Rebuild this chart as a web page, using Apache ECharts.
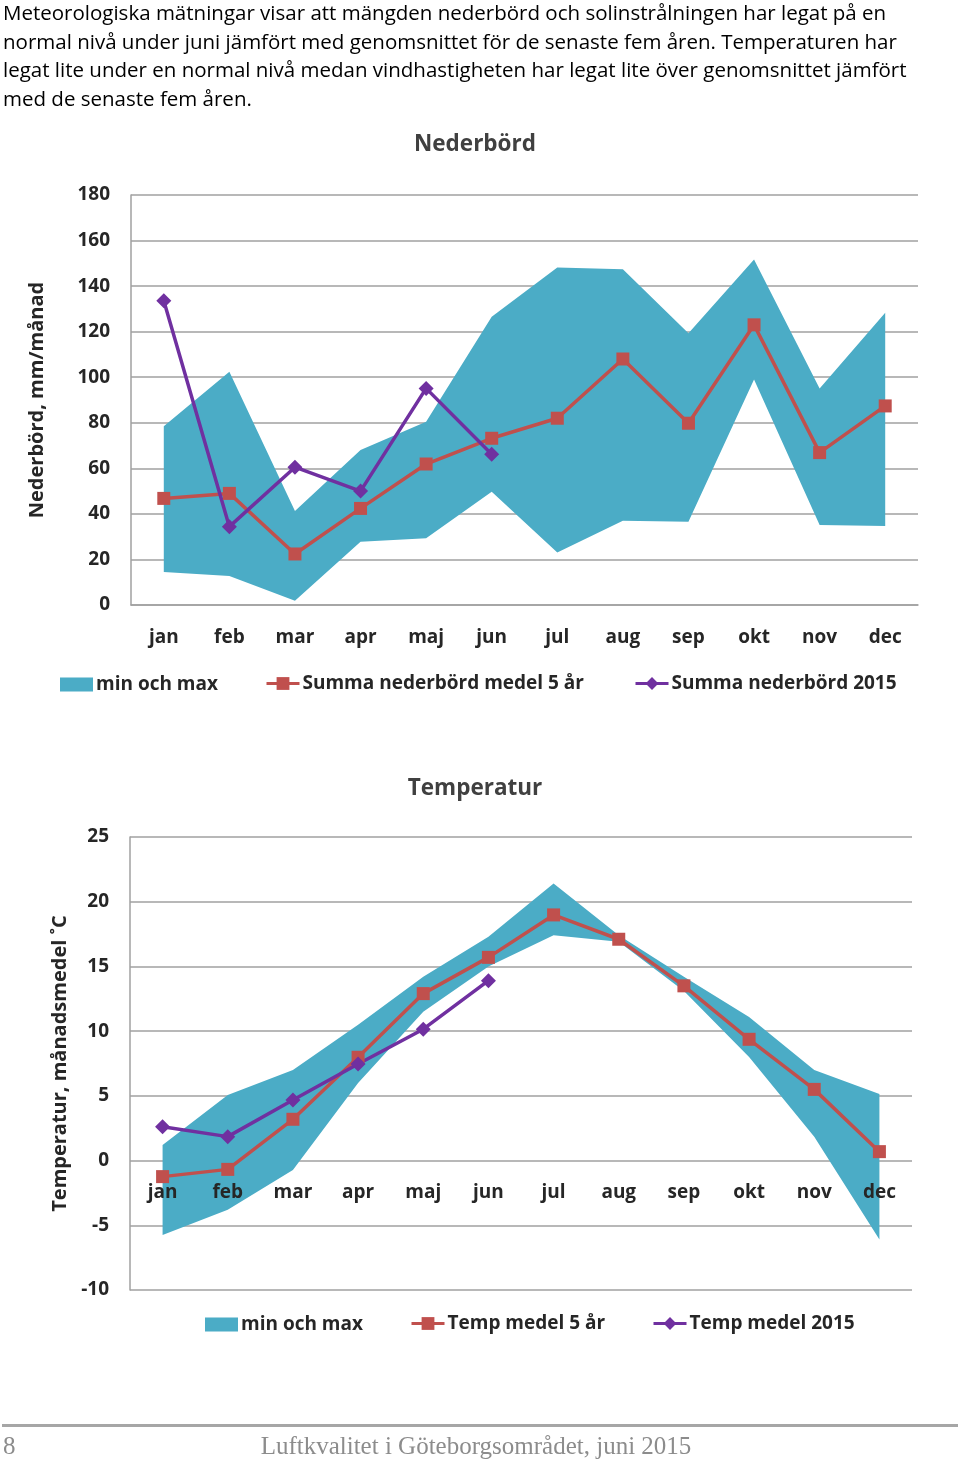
<!DOCTYPE html>
<html><head><meta charset="utf-8">
<script src="https://cdn.jsdelivr.net/npm/echarts@6/dist/echarts.min.js"></script>
<style>
html,body{margin:0;padding:0;background:#fff;}
#wrap{position:relative;width:960px;height:1463px;overflow:hidden;background:#fff;}
#chart{position:absolute;left:0;top:0;width:960px;height:1463px;}
#para{position:absolute;left:3px;top:-2px;width:955px;font-family:"Open Sans",sans-serif;font-size:20.5px;line-height:28.6px;color:#000;white-space:nowrap;}
#rule{position:absolute;left:2px;top:1424px;width:956px;height:3px;background:#a6a6a6;}
#pnum{position:absolute;left:3px;top:1431px;font-family:"Liberation Serif",serif;font-size:25px;line-height:30px;color:#8c8c8c;}
#foot{position:absolute;left:0;width:952px;top:1431px;text-align:center;font-family:"Liberation Serif",serif;font-size:25px;line-height:30px;color:#8c8c8c;}
</style></head>
<body><div id="wrap">
<div id="chart"></div>
<div id="para">Meteorologiska mätningar visar att mängden nederbörd och solinstrålningen har legat på en<br>normal nivå under juni jämfört med genomsnittet för de senaste fem åren. Temperaturen har<br>legat lite under en normal nivå medan vindhastigheten har legat lite över genomsnittet jämfört<br>med de senaste fem åren.</div>
<div id="rule"></div>
<div id="pnum">8</div>
<div id="foot">Luftkvalitet i Göteborgsområdet, juni 2015</div>
</div>
<script>
const months = ['jan','feb','mar','apr','maj','jun','jul','aug','sep','okt','nov','dec'];

const precipMin  = [14.5, 12.7, 1.9, 27.8, 29.3, 49.7, 23, 37, 36.6, 99, 35.1, 34.7];
const precipMax  = [78.5, 102.4, 41.3, 68, 80.5, 126.6, 148.2, 147.4, 119.3, 151.7, 95.1, 128.3];
const precipAvg5 = [46.8, 49, 22.4, 42.4, 61.9, 73.2, 82, 108, 79.8, 123, 66.9, 87.4];
const precip2015 = [133.6, 34.4, 60.5, 50, 95.1, 66.2];

const tempMin  = [-5.75, -3.8, -0.73, 6.0, 11.5, 15.0, 17.4, 16.9, 13.1, 8.0, 1.85, -6.1];
const tempMax  = [1.2, 5.07, 7.0, 10.5, 14.2, 17.3, 21.4, 17.4, 14.2, 11.1, 7.0, 5.14];
const tempAvg5 = [-1.24, -0.68, 3.19, 7.98, 12.9, 15.7, 18.98, 17.1, 13.5, 9.37, 5.5, 0.69];
const temp2015 = [2.62, 1.85, 4.68, 7.46, 10.15, 13.9];

const precipTicks = {min: 0, max: 180, interval: 20};
const tempTicks = {min: -10, max: 25, interval: 5};

const TEAL = '#4bacc6', RED = '#c0504d', PURPLE = '#7030a0';
const GRIDC = '#a0a0a0', TXT = '#262626';
const FONT = 'Open Sans';

const chart = echarts.init(document.getElementById('chart'), null, {renderer: 'canvas'});

const GRID2 = {left: 130, top: 837, width: 782, height: 453};
// place temperature category labels at the zero line
const zeroOffset = -GRID2.height * (0 - tempTicks.min) / (tempTicks.max - tempTicks.min);

function xAxisCfg(gi, offset, showLine) {
  return {
    type: 'category', gridIndex: gi, data: months, boundaryGap: true, offset: offset, z: 10,
    axisLine: {show: showLine, onZero: false, lineStyle: {color: GRIDC, width: 1.5}},
    axisTick: {show: false},
    axisLabel: {margin: 23, interval: 0, fontFamily: FONT, fontWeight: 'bold', fontSize: 19, color: TXT}
  };
}
function yAxisCfg(gi, t, name, gap) {
  return {
    type: 'value', gridIndex: gi, min: t.min, max: t.max, interval: t.interval,
    name: name, nameLocation: 'middle', nameGap: gap, nameRotate: 90,
    nameTextStyle: {fontFamily: FONT, fontWeight: 'bold', fontSize: 20, color: TXT},
    axisLine: {show: true, lineStyle: {color: GRIDC, width: 1.5}},
    axisTick: {show: false},
    splitLine: {show: true, lineStyle: {color: GRIDC, width: 1.5}},
    axisLabel: {margin: 21, fontFamily: FONT, fontWeight: 'bold', fontSize: 19, color: TXT}
  };
}
function band(gi, mins, maxs, stackId) {
  return [
    {type: 'line', name: 'band-min-' + gi, xAxisIndex: gi, yAxisIndex: gi, data: mins,
     stack: stackId, stackStrategy: 'all', symbol: 'none', silent: true,
     lineStyle: {opacity: 0, width: 0}, z: 1},
    {type: 'line', name: 'min och max', xAxisIndex: gi, yAxisIndex: gi,
     data: maxs.map((v, i) => +(v - mins[i]).toFixed(2)),
     stack: stackId, stackStrategy: 'all', symbol: 'none', silent: true,
     lineStyle: {width: 0, color: TEAL}, itemStyle: {color: TEAL},
     areaStyle: {color: TEAL, opacity: 1}, z: 1}
  ];
}
function lineS(gi, name, data, color, sym, size) {
  return {type: 'line', name: name, xAxisIndex: gi, yAxisIndex: gi, data: data,
    symbol: sym, symbolSize: size, showSymbol: true,
    lineStyle: {color: color, width: 3.5}, itemStyle: {color: color}, z: 3};
}
function leg(left, top, name, icon) {
  const isRect = !!icon;
  return {left: left, top: isRect ? top : top - 1, padding: 0, itemWidth: 33,
    itemHeight: isRect ? 14 : 16, itemGap: 0,
    selectedMode: false, data: [isRect ? {name: name, icon: icon} : name],
    lineStyle: {width: 3},
    textStyle: {fontFamily: FONT, fontWeight: 'bold', fontSize: 19, color: TXT, padding: [0, 0, 0, -2]}};
}

const option = {
  animation: false,
  title: [
    {text: 'Nederbörd', left: 470, top: 128, textAlign: 'center',
     textStyle: {fontFamily: FONT, fontWeight: 'bold', fontSize: 22.5, color: '#404040'}},
    {text: 'Temperatur', left: 470, top: 772, textAlign: 'center',
     textStyle: {fontFamily: FONT, fontWeight: 'bold', fontSize: 22.5, color: '#404040'}}
  ],
  grid: [
    {left: 131, top: 195, width: 787, height: 410},
    GRID2
  ],
  xAxis: [xAxisCfg(0, 0, true), xAxisCfg(1, zeroOffset, false)],
  yAxis: [
    yAxisCfg(0, precipTicks, 'Nederbörd, mm/månad', 84),
    yAxisCfg(1, tempTicks, 'Temperatur, månadsmedel ˚C', 60)
  ],
  legend: [
    leg(60, 675, 'min och max', 'rect'),
    leg(265, 675, 'Summa nederbörd medel 5 år'),
    leg(634, 675, 'Summa nederbörd 2015'),
    leg(205, 1315, 'min och max', 'rect'),
    leg(410, 1315, 'Temp medel 5 år'),
    leg(652, 1315, 'Temp medel 2015')
  ],
  series: [
    ...band(0, precipMin, precipMax, 'pb'),
    lineS(0, 'Summa nederbörd medel 5 år', precipAvg5, RED, 'rect', 13),
    lineS(0, 'Summa nederbörd 2015', precip2015, PURPLE, 'diamond', 15),
    ...band(1, tempMin, tempMax, 'tb'),
    lineS(1, 'Temp medel 5 år', tempAvg5, RED, 'rect', 13),
    lineS(1, 'Temp medel 2015', temp2015, PURPLE, 'diamond', 15)
  ]
};
chart.setOption(option);
</script>
</body></html>
